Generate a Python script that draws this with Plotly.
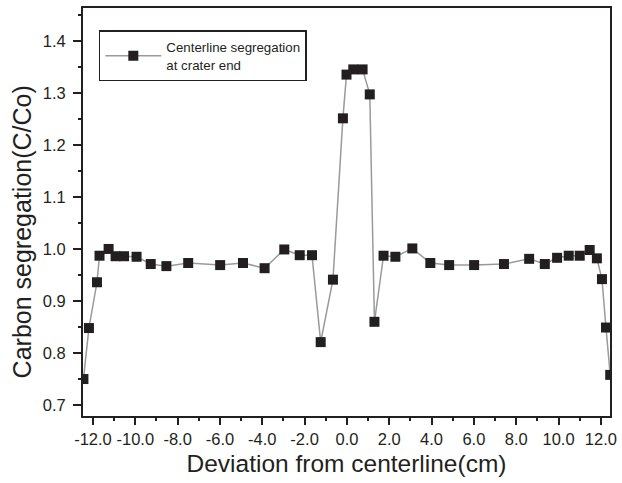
import plotly.graph_objects as go

# Data
deviation_cm = [-12.45, -12.19, -11.81, -11.69, -11.26, -10.93, -10.53, -9.94, -9.27, -8.53,
                -7.50, -5.99, -4.91, -3.89, -2.96, -2.23, -1.65, -1.24, -0.66, -0.19,
                -0.02, 0.30, 0.74, 1.08, 1.30, 1.73, 2.29, 3.09, 3.94, 4.83,
                6.01, 7.42, 8.61, 9.35, 9.93, 10.48, 11.00, 11.47, 11.81, 12.05,
                12.24, 12.44]
carbon_seg = [0.750, 0.848, 0.936, 0.987, 1.000, 0.986, 0.986, 0.985, 0.971, 0.967,
              0.973, 0.969, 0.973, 0.963, 0.999, 0.988, 0.988, 0.821, 0.941, 1.251,
              1.335, 1.345, 1.345, 1.297, 0.860, 0.987, 0.985, 1.001, 0.973, 0.969,
              0.969, 0.971, 0.981, 0.971, 0.983, 0.987, 0.987, 0.998, 0.982, 0.942,
              0.849, 0.758]

x_tickvals = [-12, -10, -8, -6, -4, -2, 0, 2, 4, 6, 8, 10, 12]
x_ticktext = ["-12.0", "-10.0", "-8.0", "-6.0", "-4.0", "-2.0", "0.0",
              "2.0", "4.0", "6.0", "8.0", "10.0", "12.0"]
y_tickvals = [0.7, 0.8, 0.9, 1.0, 1.1, 1.2, 1.3, 1.4]
y_ticktext = ["0.7", "0.8", "0.9", "1.0", "1.1", "1.2", "1.3", "1.4"]

series_name = "Centerline segregation<br>at crater end"
x_title = "Deviation from centerline(cm)"
y_title = "Carbon segregation(C/Co)"

dark = "#231f20"
font_family = "Liberation Sans, Arial, sans-serif"

fig = go.Figure()
fig.add_trace(go.Scatter(
    x=deviation_cm, y=carbon_seg, mode="lines+markers", name=series_name,
    line=dict(color="#9a9a9a", width=1.5),
    marker=dict(symbol="square", size=10, color=dark, line=dict(width=0)),
))

fig.update_layout(
    width=622, height=483,
    margin=dict(l=83, r=5, t=8, b=67),
    paper_bgcolor="white", plot_bgcolor="white",
    font=dict(family=font_family, color=dark),
    showlegend=True,
    legend=dict(
        x=0.030, y=0.945, xanchor="left", yanchor="top",
        bordercolor=dark, borderwidth=1.5, bgcolor="white",
        font=dict(size=13.3, family=font_family, color=dark),
        itemwidth=56, entrywidth=200, entrywidthmode="pixels",
    ),
)

fig.update_xaxes(
    range=[-12.47, 12.43],
    tickvals=x_tickvals, ticktext=x_ticktext,
    ticks="outside", ticklen=7, tickwidth=2, tickcolor=dark,
    minor=dict(dtick=1, ticks="outside", ticklen=3, tickwidth=2, tickcolor=dark, showgrid=False),
    showline=True, linewidth=2, linecolor=dark, mirror=True,
    showgrid=False, zeroline=False,
    tickfont=dict(size=16.5, color=dark),
    title=dict(text=x_title, font=dict(size=24.5, color=dark), standoff=8),
)
fig.update_yaxes(
    range=[0.679, 1.463],
    tickvals=y_tickvals, ticktext=y_ticktext,
    ticks="outside", ticklen=8, tickwidth=2, tickcolor=dark,
    minor=dict(dtick=0.05, tick0=0.0, ticks="outside", ticklen=3, tickwidth=2, tickcolor=dark, showgrid=False),
    showline=True, linewidth=2, linecolor=dark, mirror=True,
    showgrid=False, zeroline=False,
    ticklabelstandoff=4,
    tickfont=dict(size=16.5, color=dark),
)

fig.add_annotation(
    text=y_title, textangle=-90, showarrow=False,
    xref="paper", yref="paper", x=0, y=0.45,
    xanchor="center", yanchor="middle", xshift=-61,
    font=dict(size=25, color=dark, family=font_family),
)

fig.write_html("out.html")
